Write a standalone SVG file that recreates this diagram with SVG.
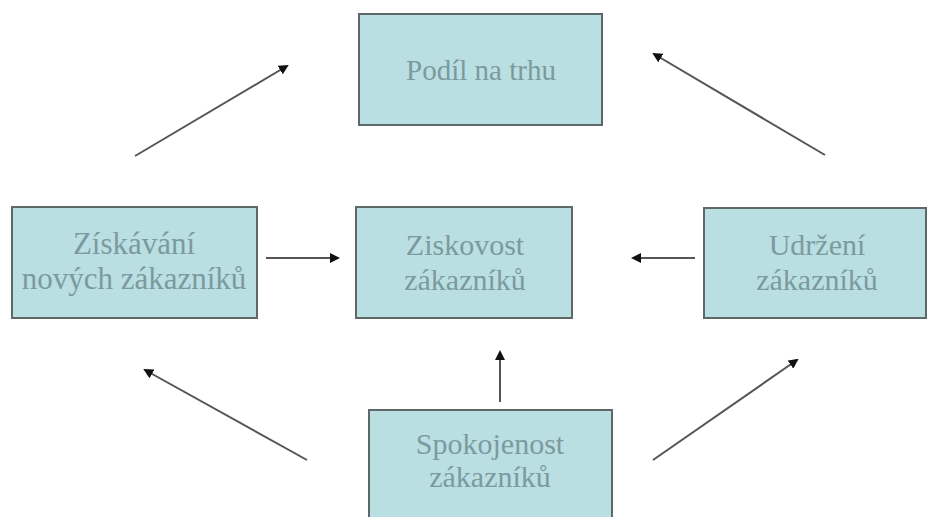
<svg xmlns="http://www.w3.org/2000/svg" width="937" height="517" viewBox="0 0 937 517">
<defs>
<marker id="ah" markerWidth="10" markerHeight="10" refX="8" refY="5" orient="auto" markerUnits="userSpaceOnUse">
<path d="M0,0 L10,5 L0,10 z" fill="#111"/>
</marker>
<style>
.box{fill:#b9dfe3;stroke:#5e6868;stroke-width:2}
.t{font-family:"Liberation Serif","Times New Roman",serif;font-size:30px;fill:#7c9a9e;text-anchor:middle}
.c{stroke:#555;stroke-width:2;fill:none;marker-end:url(#ah)}
</style>
</defs>
<rect width="937" height="517" fill="#fff"/>
<g id="podil">
<rect class="box" x="359" y="14" width="243" height="111"/>
<text class="t" x="481" y="80" style="font-size:29px">Podíl na trhu</text>
</g>
<g id="ziskavani">
<rect class="box" x="12" y="207" width="245" height="111"/>
<text class="t" x="134" y="254" style="font-size:31px">Získávání</text>
<text class="t" x="134" y="289" style="font-size:31px">nových zákazníků</text>
</g>
<g id="ziskovost">
<rect class="box" x="356" y="207" width="216" height="111"/>
<text class="t" x="465" y="255">Ziskovost</text>
<text class="t" x="465" y="290">zákazníků</text>
</g>
<g id="udrzeni">
<rect class="box" x="704" y="208" width="222" height="110"/>
<text class="t" x="817" y="255">Udržení</text>
<text class="t" x="817" y="290">zákazníků</text>
</g>
<g id="spokojenost">
<rect class="box" x="369" y="410" width="243" height="120"/>
<text class="t" x="490" y="454">Spokojenost</text>
<text class="t" x="490" y="487">zákazníků</text>
</g>
<g id="connectors">
<line class="c" x1="135" y1="156" x2="287" y2="66"/>
<line class="c" x1="825" y1="155" x2="654" y2="54"/>
<line class="c" x1="266" y1="258" x2="338" y2="258"/>
<line class="c" x1="695" y1="258" x2="633" y2="258"/>
<line class="c" x1="500" y1="402" x2="500" y2="352"/>
<line class="c" x1="307" y1="460" x2="145" y2="370"/>
<line class="c" x1="653" y1="460" x2="797" y2="360"/>
</g>
</svg>
